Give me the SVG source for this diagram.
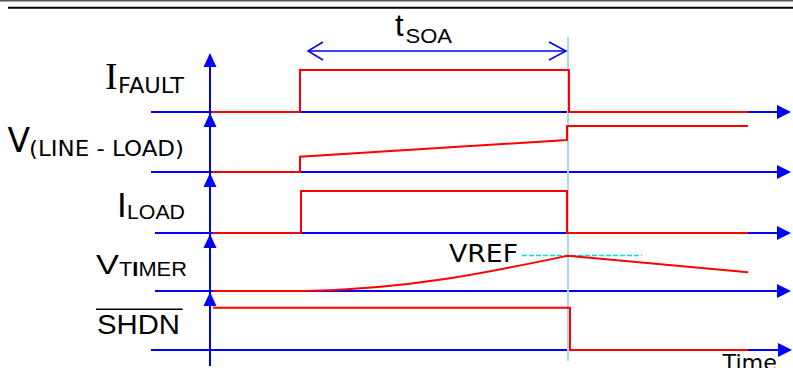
<svg xmlns="http://www.w3.org/2000/svg" width="793" height="368" viewBox="0 0 793 368">
  <style>
    .ax { stroke: #0000ff; stroke-width: 2; fill: none; }
    .ah { fill: #0000ff; stroke: none; }
    .sig { stroke: #ff0000; stroke-width: 2; fill: none; stroke-linejoin: miter; }
    .sans { font-family: "Liberation Sans", Arial, sans-serif; fill: #000; }
    .dv { font-family: "DejaVu Sans", Verdana, sans-serif; fill: #000; }
    .serif { font-family: "Liberation Serif", "Times New Roman", serif; fill: #000; }
  </style>
  <rect width="793" height="368" fill="#fff"/>
  <g id="frame">
    <line x1="0" y1="0.8" x2="793" y2="0.8" stroke="#555" stroke-width="1.5"/>
    <line x1="8" y1="7.7" x2="793" y2="7.7" stroke="#000" stroke-width="2"/>
  </g>
  <g id="connectors">
    <g id="axes">
      <line class="ax" x1="151" y1="112" x2="779" y2="112"/>
      <line class="ax" x1="151" y1="172" x2="779" y2="172"/>
      <line class="ax" x1="155" y1="233" x2="779" y2="233"/>
      <line class="ax" x1="155" y1="291" x2="779" y2="291"/>
      <line class="ax" x1="151" y1="350" x2="779" y2="350"/>
      <line class="ax" x1="210" y1="60" x2="210" y2="366"/>
      <polygon class="ah" points="791,112 777,105 777,119"/>
      <polygon class="ah" points="791,172 777,165 777,179"/>
      <polygon class="ah" points="791,233 777,226 777,240"/>
      <polygon class="ah" points="791,291 777,284 777,298"/>
      <polygon class="ah" points="792,350 778,343 778,357"/>
      <polygon class="ah" points="210,53 203.5,67 216.5,67"/>
      <polygon class="ah" points="210,113 203.5,127 216.5,127"/>
      <polygon class="ah" points="210,173 203.5,187 216.5,187"/>
      <polygon class="ah" points="210,234 203.5,248 216.5,248"/>
      <polygon class="ah" points="210,292 203.5,306 216.5,306"/>
    </g>
    <line id="marker-line" x1="568" y1="37" x2="568" y2="361" stroke="#add8e6" stroke-width="2"/>
    <line id="vref-line" x1="522" y1="255.5" x2="642" y2="255.5" stroke="#00e0e0" stroke-width="1.6" stroke-dasharray="5,2"/>
    <g id="tsoa-arrow" stroke="#0000ff" stroke-width="1.5" fill="none">
      <line x1="308" y1="51" x2="566" y2="51"/>
      <polyline points="323,42 308,51 323,60"/>
      <polyline points="549,42 566,51 549,60"/>
    </g>
  </g>
  <g id="ifault">
    <path class="sig" d="M212,112 H300 V70 H569 V112 H748"/>
    <text class="serif" x="105" y="88.5" font-size="37.5">I</text>
    <text class="dv" x="118" y="93" font-size="20.5" textLength="66" lengthAdjust="spacingAndGlyphs">FAULT</text>
  </g>
  <g id="vlineload">
    <path class="sig" stroke-width="1.6" d="M212,172 H300 V156.7 L567,140 V126 H748"/>
    <text class="dv" x="7.5" y="152" font-size="33">V</text>
    <text class="dv" x="29" y="156" font-size="21" textLength="155" lengthAdjust="spacingAndGlyphs">(LINE - LOAD)</text>
  </g>
  <g id="iload">
    <path class="sig" d="M213,233 H301 V191 H567 V233 H748"/>
    <text class="sans" x="117" y="216.5" font-size="35">I</text>
    <text class="sans" x="127" y="219.3" font-size="21" textLength="58" lengthAdjust="spacingAndGlyphs">LOAD</text>
  </g>
  <g id="vtimer">
    <path class="sig" d="M213,291 H305 C410,289 490,272 568,255.7 L748,272.3"/>
    <text class="sans" x="96" y="273.5" font-size="27" textLength="23" lengthAdjust="spacingAndGlyphs">V</text>
    <text class="sans" x="119" y="275.7" font-size="19.5" textLength="68" lengthAdjust="spacingAndGlyphs">T<tspan font-weight="bold">I</tspan>MER</text>
    <text class="dv" x="449" y="261.7" font-size="25" textLength="69" lengthAdjust="spacingAndGlyphs">VREF</text>
  </g>
  <g id="shdn">
    <path class="sig" d="M213,307.7 H570 V350 H748"/>
    <line x1="96" y1="309.3" x2="182.7" y2="309.3" stroke="#000" stroke-width="1.4"/>
    <text class="sans" x="97" y="334" font-size="28.5" textLength="83" lengthAdjust="spacingAndGlyphs">SHDN</text>
  </g>
  <g id="tsoa">
    <text class="sans" x="395" y="35.5" font-size="31">t</text>
    <text class="sans" x="405.5" y="42.7" font-size="20" textLength="46.5" lengthAdjust="spacingAndGlyphs">SOA</text>
  </g>
  <g id="time">
    <text class="dv" x="722.5" y="370" font-size="21" textLength="54.5" lengthAdjust="spacingAndGlyphs">Time</text>
  </g>
</svg>
